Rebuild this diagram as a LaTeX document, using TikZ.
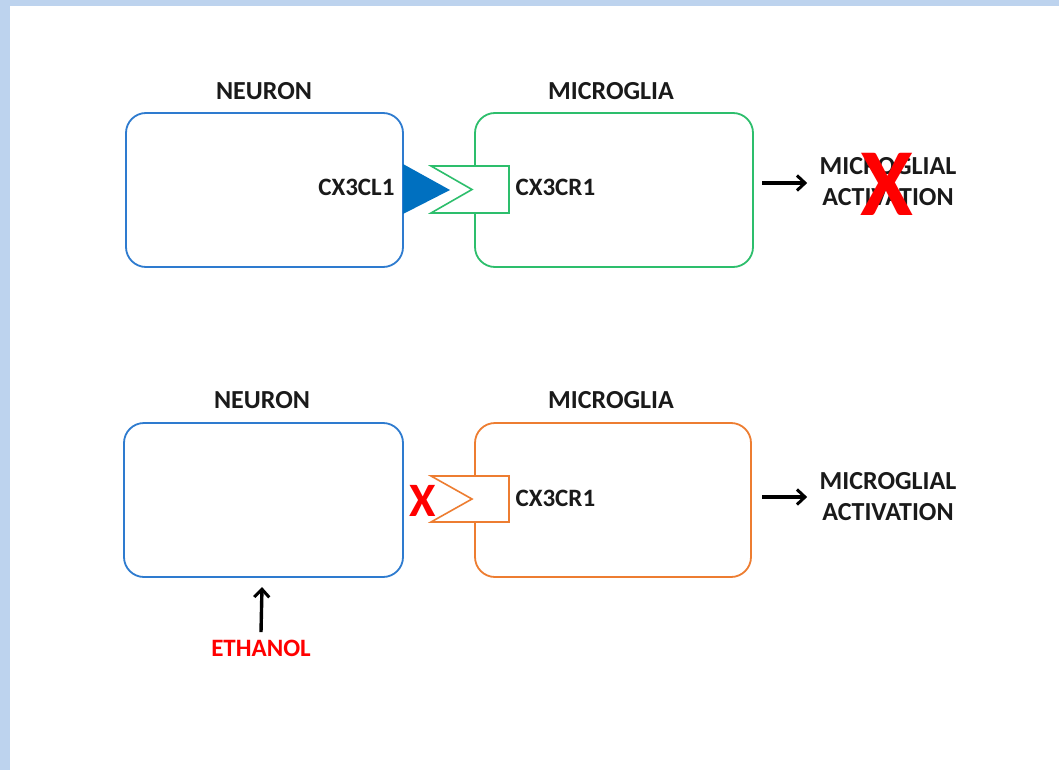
\documentclass[tikz,border=0pt]{standalone}
\usepackage{fontspec}
\setmainfont{Carlito}
\usetikzlibrary{arrows.meta}
\definecolor{frameblue}{HTML}{BDD3EE}
\definecolor{neuronblue}{HTML}{2E7BCF}
\definecolor{ligandblue}{HTML}{0070C0}
\definecolor{gliagreen}{HTML}{2DBE6C}
\definecolor{gliaorange}{HTML}{ED7D31}
\definecolor{xred}{HTML}{FF0000}
\definecolor{inkblack}{HTML}{1A1A1A}
\tikzset{
    cellbox/.style={draw, line width=1.8pt, rounded corners=20pt},
    celltitle/.style={font=\fontsize{26}{30}\selectfont\bfseries, text=inkblack},
    tag/.style={font=\fontsize{25}{30}\selectfont\bfseries, text=inkblack},
    outcome/.style={font=\fontsize{26}{31}\selectfont\bfseries, text=inkblack, align=center},
    receptor/.style={fill=white, line width=1.6pt},
    signal/.style={-{Straight Barb[length=8pt,width=15pt,line width=3pt]}, line width=3.4pt},
}
\begin{document}
\begin{tikzpicture}[x=1pt, y=-1pt]
    \useasboundingbox (0,0) rectangle (1059,770);
    \fill[frameblue] (0,0) rectangle (1059,770);
    \fill[white] (10,6) rectangle (1059,770);

    % top: normal signalling
    \draw[cellbox, neuronblue] (126,113) rectangle (403,267);
    \draw[cellbox, gliagreen] (475,113) rectangle (753,267);
    \node[celltitle] (neuronA) at (264,91) {NEURON};
    \node[celltitle] (gliaA) at (611,91) {MICROGLIA};
    \fill[ligandblue] (403,164) -- (450,190) -- (403,214) -- cycle;
    \draw[receptor, draw=gliagreen] (431,166) -- (509,166) -- (509,213) -- (431,213) -- (472,189.5) -- cycle;
    \node[tag, anchor=east] (ligandA) at (398,187) {CX3CL1};
    \node[tag, anchor=west] (receptorA) at (512,187) {CX3CR1};
    \coordinate (arrA) at (762,183);
    \node[outcome] (actA) at (888,182) {MICROGLIAL\\ACTIVATION};
    \draw[signal, shorten >=9pt] (arrA) -- (actA.west |- arrA);
    \node[font=\fontsize{96}{96}\selectfont\bfseries, text=xred] (blockA) at (887,184) {X};

    % bottom: with ethanol
    \draw[cellbox, neuronblue] (124,423) rectangle (403,577);
    \draw[cellbox, gliaorange] (475,423) rectangle (751,577);
    \node[celltitle] (neuronB) at (262,400) {NEURON};
    \node[celltitle] (gliaB) at (611,400) {MICROGLIA};
    \draw[receptor, draw=gliaorange] (431,476) -- (509,476) -- (509,522) -- (431,522) -- (472,499) -- cycle;
    \node[font=\fontsize{48}{48}\selectfont\bfseries, text=xred] (blockB) at (423,501) {X};
    \node[tag, anchor=west] (receptorB) at (512,498) {CX3CR1};
    \coordinate (arrB) at (762,497);
    \node[outcome] (actB) at (888,497) {MICROGLIAL\\ACTIVATION};
    \draw[signal, shorten >=9pt] (arrB) -- (actB.west |- arrB);
    \node[font=\fontsize{25}{30}\selectfont\bfseries, text=xred] (ethanol) at (261,648) {ETHANOL};
    \coordinate (neuronBase) at (262,587);
    \draw[signal] (ethanol.north) ++(0,-4) -- (neuronBase);
\end{tikzpicture}
\end{document}
